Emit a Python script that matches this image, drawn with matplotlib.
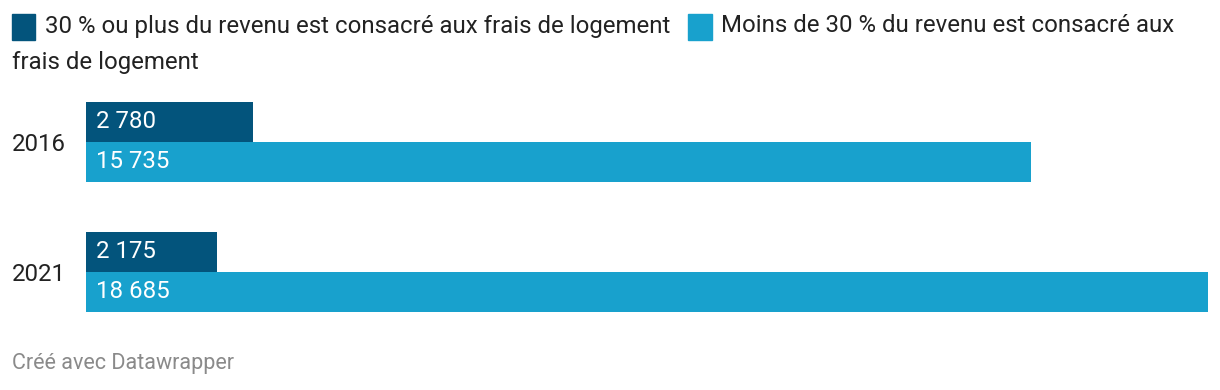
import matplotlib
matplotlib.use("Agg")
import matplotlib.pyplot as plt
from matplotlib.patches import Rectangle

plt.rcParams['font.family'] = ['Roboto', 'DejaVu Sans']

years = ["2016", "2021"]
series_names = ["30 % ou plus du revenu est consacré aux frais de logement",
                "Moins de 30 % du revenu est consacré aux frais de logement"]
high_cost = [2780, 2175]
low_cost = [15735, 18685]
colors = ["#03547c", "#18a1cd"]

W, H = 1220, 390
FS = 17.3
fig = plt.figure(figsize=(W / 100, H / 100), dpi=100)

def fx(px):
    return px / W

def fy(py):
    return 1 - py / H

# axes spanning the bars
left, right, top, bottom = 86, 1208, 102, 312
ax = fig.add_axes([fx(left), fy(bottom), fx(right - left), (bottom - top) / H])
bar_h = 40 / 130
for i, (a, b) in enumerate(zip(high_cost, low_cost)):
    ax.barh(i - bar_h / 2, a, height=bar_h, color=colors[0], linewidth=0)
    ax.barh(i + bar_h / 2, b, height=bar_h, color=colors[1], linewidth=0)
    for v, yy in ((a, i - bar_h / 2), (b, i + bar_h / 2)):
        ax.text(10 * 18685 / (right - left), yy, f"{v:,}".replace(",", " "),
                color="white", fontsize=FS, va="center", ha="left")
ax.set_xlim(0, max(low_cost))
ax.set_ylim(1 + bar_h, -bar_h)
ax.set_yticks(range(len(years)))
ax.set_yticklabels(years, fontsize=FS, color="#222222")
ax.tick_params(axis="y", length=0, pad=14.5)
ax.set_xticks([])
for s in ax.spines.values():
    s.set_visible(False)

# legend
fig.patches.append(Rectangle((fx(12), fy(40)), fx(23), 26 / H, transform=fig.transFigure,
                             color=colors[0], figure=fig))
fig.text(fx(45), fy(26), series_names[0], fontsize=FS, color="#222222", va="center", ha="left")
fig.patches.append(Rectangle((fx(688), fy(40)), fx(24), 26 / H, transform=fig.transFigure,
                             color=colors[1], figure=fig))
fig.text(fx(721), fy(26), "Moins de 30 % du revenu est consacré aux", fontsize=FS,
         color="#222222", va="center", ha="left")
fig.text(fx(12), fy(62), "frais de logement", fontsize=FS, color="#222222", va="center", ha="left")

fig.text(fx(12), fy(364), "Créé avec Datawrapper", fontsize=15.5, color="#8a8a8a", va="center", ha="left")

fig.savefig("out.png", dpi=100)
